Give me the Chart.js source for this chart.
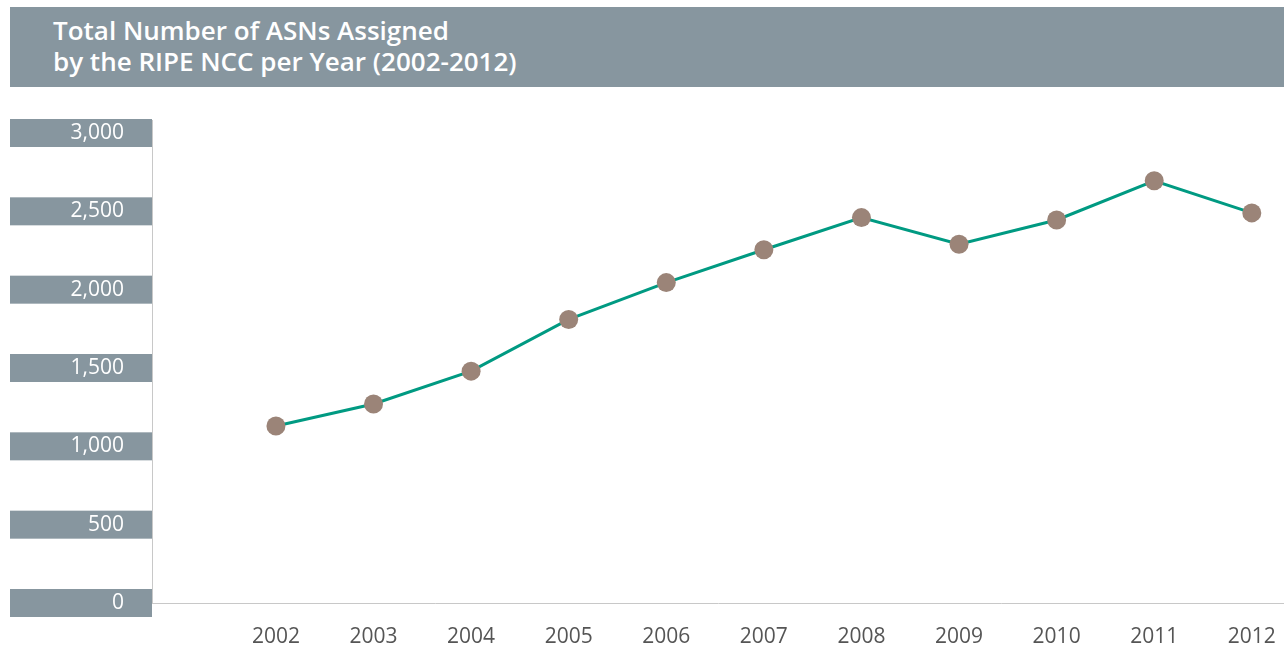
<!DOCTYPE html>
<html>
<head>
<meta charset="utf-8">
<script src="https://cdn.jsdelivr.net/npm/chart.js@4/dist/chart.umd.min.js"></script>
<style>
  html, body { margin: 0; padding: 0; background: #fff; }
  .wrap { position: relative; width: 1284px; height: 650px; }
  .title {
    position: absolute; left: 10px; top: 7px; width: 1274px; height: 80px;
    background: #87969f; color: #fff; box-sizing: border-box;
    padding: 8px 0 0 43px;
    font-family: "Open Sans", sans-serif; font-weight: 600; font-size: 26px; line-height: 31px;
  }
  canvas { position: absolute; left: 0; top: 0; }
</style>
</head>
<body>
<div class="wrap">
  <canvas id="asnChart" width="1284" height="650"></canvas>
  <div class="title">Total Number of ASNs Assigned<br>by the RIPE NCC per Year (2002-2012)</div>
</div>
<script>
const years = [2002, 2003, 2004, 2005, 2006, 2007, 2008, 2009, 2010, 2011, 2012];
const asnCounts = [1130, 1270, 1480, 1810, 2045, 2255, 2460, 2290, 2445, 2695, 2490];
const yTicks = [0, 500, 1000, 1500, 2000, 2500, 3000];

// Grey label boxes behind the y ticks
const tickBoxes = {
  id: 'tickBoxes',
  beforeDraw(chart) {
    const ctx = chart.ctx;
    const y = chart.scales.y;
    const area = chart.chartArea;
    ctx.save();
    ctx.fillStyle = '#87969f';
    yTicks.forEach(v => {
      const py = y.getPixelForValue(v);
      ctx.fillRect(10, py - 14, area.left - 10, 28);
    });
    // y axis line running up to the top box
    ctx.strokeStyle = '#c8c8c8';
    ctx.lineWidth = 1;
    ctx.beginPath();
    ctx.moveTo(area.left + 0.5, y.getPixelForValue(3000) - 13);
    ctx.lineTo(area.left + 0.5, area.bottom);
    ctx.stroke();
    ctx.restore();
  }
};

const ctx = document.getElementById('asnChart');

new Chart(ctx, {
  type: 'line',
  data: {
    datasets: [{
      data: years.map((yr, i) => ({ x: yr, y: asnCounts[i] })),
      borderColor: '#009a82',
      borderWidth: 3,
      pointBackgroundColor: '#9b8478',
      pointBorderWidth: 0,
      pointRadius: 9.5,
      tension: 0,
      clip: false
    }]
  },
  options: {
    responsive: false,
    animation: false,
    layout: { autoPadding: false, padding: { top: 133, left: 10, right: 0, bottom: 0 } },
    plugins: {
      legend: { display: false },
      tooltip: { enabled: false }
    },
    scales: {
      x: {
        type: 'linear',
        min: 2000.73,
        max: 2012.33,
        afterBuildTicks: scale => { scale.ticks = years.map(v => ({ value: v })); },
        afterFit: scale => {
          scale.height = 47;
          scale.paddingLeft = 0;
          scale.paddingRight = 0;
        },
        grid: { display: false, drawTicks: false },
        border: { display: true, color: '#c8c8c8', width: 1 },
        ticks: {
          padding: 21,
          color: '#555',
          font: { family: 'Open Sans', size: 21 },
          callback: v => String(v),
          maxRotation: 0
        }
      },
      y: {
        min: 0,
        max: 3000,
        afterBuildTicks: scale => { scale.ticks = yTicks.map(v => ({ value: v })); },
        afterFit: scale => { scale.width = 142; },
        grid: { display: false, drawTicks: false },
        border: { display: false },
        ticks: {
          padding: 28,
          color: '#fff',
          font: { family: 'Open Sans', size: 21 },
          callback: v => v.toLocaleString('en-US')
        }
      }
    }
  },
  plugins: [tickBoxes]
});
</script>
</body>
</html>
